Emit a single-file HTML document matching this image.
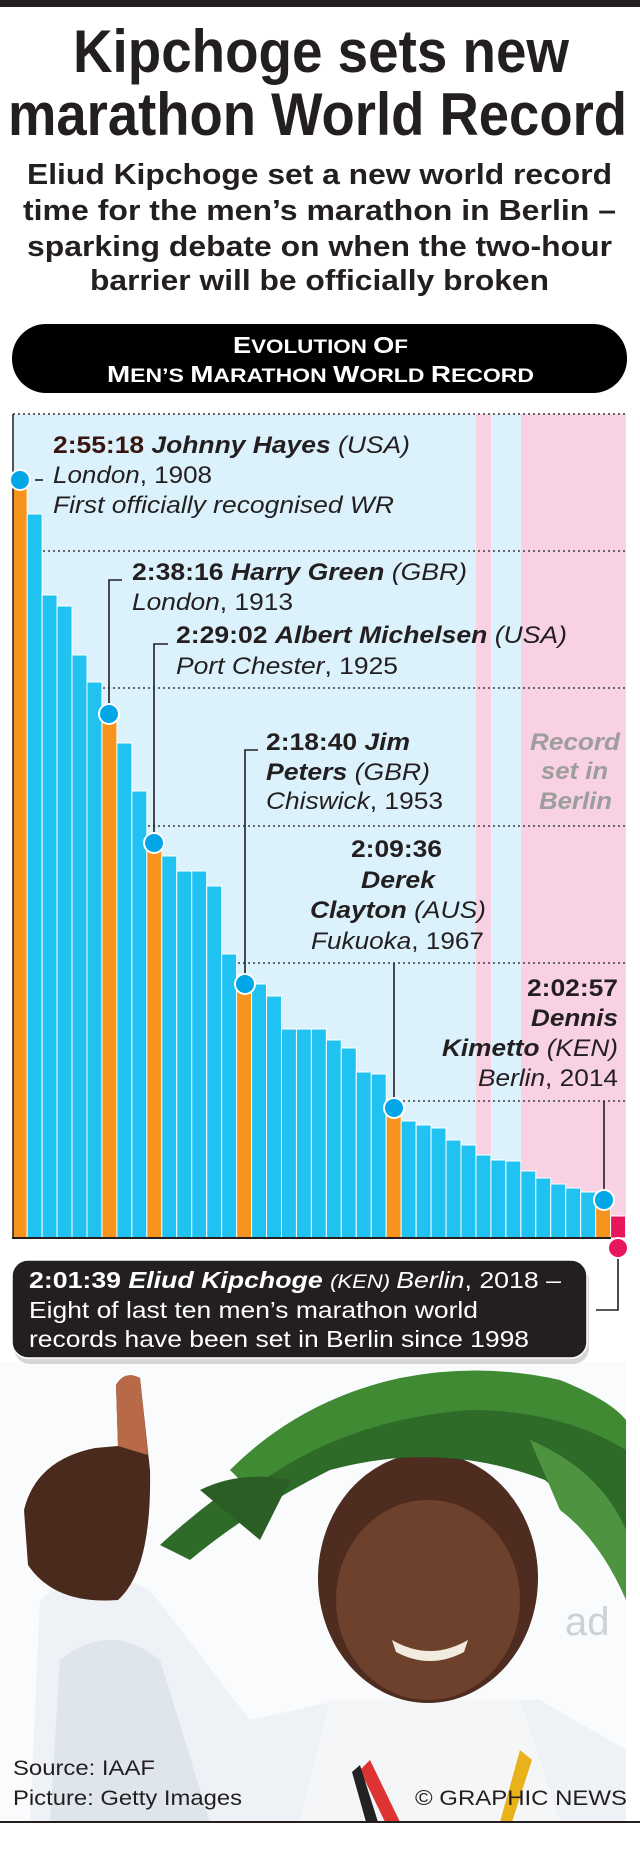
<!DOCTYPE html>
<html><head><meta charset="utf-8"><style>
html,body{margin:0;padding:0;background:#fff;width:640px;height:1850px;overflow:hidden}
svg{display:block}
text{font-family:"Liberation Sans",Arial,sans-serif;fill:#231f20}
.b{font-weight:bold}.i{font-style:italic}
</style></head><body>
<svg width="640" height="1850" viewBox="0 0 640 1850" xmlns="http://www.w3.org/2000/svg">
<rect x="0" y="0" width="640" height="7" fill="#231f20"/>
<text class="b" x="73" y="72" font-size="60" textLength="496" lengthAdjust="spacingAndGlyphs">Kipchoge sets new</text>
<text class="b" x="8" y="135" font-size="60" textLength="619" lengthAdjust="spacingAndGlyphs">marathon World Record</text>
<g font-size="29" font-weight="bold">
<text class="b" x="27" y="184" textLength="585" lengthAdjust="spacingAndGlyphs">Eliud Kipchoge set a new world record</text>
<text class="b" x="23" y="220" textLength="593" lengthAdjust="spacingAndGlyphs">time for the men’s marathon in Berlin –</text>
<text class="b" x="27" y="256" textLength="585" lengthAdjust="spacingAndGlyphs">sparking debate on when the two-hour</text>
<text class="b" x="90" y="290" textLength="459" lengthAdjust="spacingAndGlyphs">barrier will be officially broken</text>
</g>
<rect x="12" y="324" width="615" height="69" rx="34" fill="#000"/>
<text class="b" x="233" y="353" font-size="19" style="fill:#fff" textLength="175" lengthAdjust="spacingAndGlyphs"><tspan font-size="23">E</tspan>VOLUTION <tspan font-size="23">O</tspan>F</text>
<text class="b" x="107" y="382" font-size="19" style="fill:#fff" textLength="427" lengthAdjust="spacingAndGlyphs"><tspan font-size="23">M</tspan>EN’S <tspan font-size="23">M</tspan>ARATHON <tspan font-size="23">W</tspan>ORLD <tspan font-size="23">R</tspan>ECORD</text>

<rect x="13" y="414" width="613" height="824" fill="#dbf1fc"/>
<rect x="476" y="414" width="15" height="824" fill="#f8d1e3"/>
<rect x="521" y="414" width="105" height="824" fill="#f8d1e3"/>
<g stroke="#666" stroke-width="2" stroke-dasharray="2 3">
<line x1="13" y1="414" x2="626" y2="414"/>
<line x1="13" y1="551" x2="626" y2="551"/>
<line x1="13" y1="688" x2="626" y2="688"/>
<line x1="13" y1="826" x2="626" y2="826"/>
<line x1="13" y1="963" x2="626" y2="963"/>
<line x1="13" y1="1101" x2="626" y2="1101"/>
</g>
<g id="bars" stroke="#fff" stroke-width="1"></g>
<line x1="13" y1="414" x2="13" y2="1238" stroke="#231f20" stroke-width="1.5"/>
<line x1="12" y1="1238" x2="611" y2="1238" stroke="#231f20" stroke-width="2"/>

<g stroke="#231f20" stroke-width="1.6" fill="none">
<line x1="35" y1="480" x2="43" y2="480"/>
<polyline points="122,580 109,580 109,714"/>
<polyline points="168,644 154,644 154,843"/>
<polyline points="258,750 245,750 245,984"/>
<line x1="394" y1="963" x2="394" y2="1108"/>
<line x1="604" y1="1101" x2="604" y2="1200"/>
<polyline points="618,1248 618,1310 596,1310"/>
</g>
<g fill="#00a6e6" stroke="#fff" stroke-width="2">
<circle cx="20" cy="480" r="10"/>
<circle cx="109" cy="714" r="10"/>
<circle cx="154" cy="843" r="10"/>
<circle cx="245" cy="984" r="10"/>
<circle cx="394" cy="1108" r="10"/>
<circle cx="604" cy="1200" r="10"/>
</g>
<circle cx="618" cy="1248" r="10" fill="#e8175d" stroke="#fff" stroke-width="2"/>

<g font-size="24">
<text x="53" y="453" textLength="357" lengthAdjust="spacingAndGlyphs"><tspan class="b" style="fill:#3a1510">2:55:18 </tspan><tspan class="b i">Johnny Hayes </tspan><tspan class="i">(USA)</tspan></text>
<text x="53" y="483" textLength="159" lengthAdjust="spacingAndGlyphs"><tspan class="i">London</tspan>, 1908</text>
<text class="i" x="53" y="513" textLength="341" lengthAdjust="spacingAndGlyphs">First officially recognised WR</text>

<text x="132" y="580" textLength="335" lengthAdjust="spacingAndGlyphs"><tspan class="b">2:38:16 </tspan><tspan class="b i">Harry Green </tspan><tspan class="i">(GBR)</tspan></text>
<text x="132" y="610" textLength="161" lengthAdjust="spacingAndGlyphs"><tspan class="i">London</tspan>, 1913</text>

<text x="176" y="643" textLength="391" lengthAdjust="spacingAndGlyphs"><tspan class="b">2:29:02 </tspan><tspan class="b i">Albert Michelsen </tspan><tspan class="i">(USA)</tspan></text>
<text x="176" y="674" textLength="222" lengthAdjust="spacingAndGlyphs"><tspan class="i">Port Chester</tspan>, 1925</text>

<text x="266" y="750" textLength="144" lengthAdjust="spacingAndGlyphs"><tspan class="b">2:18:40 </tspan><tspan class="b i">Jim</tspan></text>
<text x="266" y="780" textLength="164" lengthAdjust="spacingAndGlyphs"><tspan class="b i">Peters </tspan><tspan class="i">(GBR)</tspan></text>
<text x="266" y="809" textLength="177" lengthAdjust="spacingAndGlyphs"><tspan class="i">Chiswick</tspan>, 1953</text>

<g style="font-weight:bold;font-style:italic">
<text x="530" y="750" textLength="90" lengthAdjust="spacingAndGlyphs" style="fill:#9d9d9d">Record</text>
<text x="541" y="779" textLength="67" lengthAdjust="spacingAndGlyphs" style="fill:#9d9d9d">set in</text>
<text x="539" y="809" textLength="73" lengthAdjust="spacingAndGlyphs" style="fill:#9d9d9d">Berlin</text>
</g>

<text class="b" x="351" y="857" textLength="91" lengthAdjust="spacingAndGlyphs">2:09:36</text>
<text class="b i" x="361" y="888" textLength="74" lengthAdjust="spacingAndGlyphs">Derek</text>
<text x="310" y="918" textLength="176" lengthAdjust="spacingAndGlyphs"><tspan class="b i">Clayton </tspan><tspan class="i">(AUS)</tspan></text>
<text x="311" y="949" textLength="173" lengthAdjust="spacingAndGlyphs"><tspan class="i">Fukuoka</tspan>, 1967</text>

<text class="b" x="527" y="996" textLength="91" lengthAdjust="spacingAndGlyphs">2:02:57</text>
<text class="b i" x="531" y="1026" textLength="87" lengthAdjust="spacingAndGlyphs">Dennis</text>
<text x="442" y="1056" textLength="176" lengthAdjust="spacingAndGlyphs"><tspan class="b i">Kimetto </tspan><tspan class="i">(KEN)</tspan></text>
<text x="478" y="1086" textLength="140" lengthAdjust="spacingAndGlyphs"><tspan class="i">Berlin</tspan>, 2014</text>
</g>

<!-- photo approximation -->
<rect x="0" y="1362" width="626" height="460" fill="#fafbfc"/>
<path d="M30 1822 L40 1600 Q90 1560 150 1590 L250 1720 L340 1700 L540 1700 L626 1750 L626 1822 Z" fill="#eef1f5"/>
<path d="M50 1822 L60 1660 Q110 1620 160 1660 L210 1822 Z" fill="#dfe5ec"/>
<path d="M330 1700 L520 1700 L560 1822 L300 1822 Z" fill="#f4f6f8"/>
<ellipse cx="428" cy="1578" rx="110" ry="125" fill="#4e2d20"/>
<ellipse cx="428" cy="1600" rx="92" ry="100" fill="#6e412d"/>
<path d="M392 1640 Q430 1662 468 1640 L464 1652 Q430 1670 396 1652 Z" fill="#f2ece0"/>
<path d="M370 1760 L400 1822 L385 1822 L360 1770 Z" fill="#d33"/>
<path d="M360 1765 L378 1822 L366 1822 L352 1772 Z" fill="#222"/>
<path d="M520 1750 L500 1822 L512 1822 L532 1760 Z" fill="#e8b21b"/>
<path d="M160 1545 Q230 1480 310 1440 Q400 1380 500 1380 Q590 1390 626 1430 L626 1580 Q590 1520 545 1480 Q440 1440 330 1470 Q250 1510 190 1560 Z" fill="#2e6a28"/>
<path d="M230 1470 Q300 1400 400 1378 Q480 1362 560 1380 Q610 1400 626 1420 L626 1450 Q560 1410 470 1410 Q340 1420 250 1490 Z" fill="#3f8a32"/>
<path d="M530 1440 Q600 1470 626 1530 L626 1600 Q600 1540 560 1510 Z" fill="#4e9440"/>
<path d="M200 1490 Q240 1470 290 1480 L260 1540 Z" fill="#2a5e24"/>
<path d="M24 1510 Q36 1460 95 1448 L118 1446 L116 1385 Q125 1370 140 1378 L150 1470 Q152 1570 118 1600 Q55 1605 28 1565 Z" fill="#4a2a1d"/>
<path d="M118 1446 L116 1385 Q125 1370 140 1378 L148 1455 Z" fill="#b86a48"/>
<text x="565" y="1635" font-size="40" style="fill:#cdd1d6">ad</text>

<rect x="14" y="1264" width="575" height="100" rx="16" fill="#bbb" opacity="0.6"/>
<rect x="12" y="1260" width="575" height="98" rx="16" fill="#231f20" stroke="#fff" stroke-width="1.5"/>
<g font-size="23">
<text x="29" y="1288" textLength="532" lengthAdjust="spacingAndGlyphs" style="fill:#fff"><tspan class="b" style="fill:#fff">2:01:39 </tspan><tspan class="b i" style="fill:#fff">Eliud Kipchoge </tspan><tspan class="i" style="fill:#fff" font-size="19">(KEN) </tspan><tspan class="i" style="fill:#fff">Berlin</tspan>, 2018 –</text>
<text x="29" y="1318" textLength="449" lengthAdjust="spacingAndGlyphs" style="fill:#fff">Eight of last ten men’s marathon world</text>
<text x="29" y="1347" textLength="500" lengthAdjust="spacingAndGlyphs" style="fill:#fff">records have been set in Berlin since 1998</text>
</g>

<g font-size="21">
<text x="13" y="1775" textLength="142" lengthAdjust="spacingAndGlyphs">Source: IAAF</text>
<text x="13" y="1805" textLength="229" lengthAdjust="spacingAndGlyphs">Picture: Getty Images</text>
<text x="415" y="1805" textLength="212" lengthAdjust="spacingAndGlyphs">© GRAPHIC NEWS</text>
</g>
<rect x="0" y="1821" width="640" height="2" fill="#231f20"/>
</svg>
<script>
(function(){
var tops=[480,514,595,606,655,682,714,743,791,843,856,871,871,886,954,984,984,996,1029,1029,1029,1040,1048,1072,1074,1108,1121,1125,1128,1140,1145,1155,1160,1161,1171,1178,1184,1188,1192,1200,1216];
var orange={0:1,6:1,9:1,15:1,25:1,39:1};
var g=document.getElementById('bars'),ns='http://www.w3.org/2000/svg';
for(var i=0;i<tops.length;i++){
 var x=12.2+i*14.96,c=orange[i]?'#f7941d':(i==40?'#e8175d':'#20c2f2');
 var r=document.createElementNS(ns,'rect');
 r.setAttribute('x',x.toFixed(2));r.setAttribute('y',tops[i]);
 r.setAttribute('width','14.96');r.setAttribute('height',1238-tops[i]);
 r.setAttribute('fill',c);g.appendChild(r);
}
})();
</script>
</body></html>
